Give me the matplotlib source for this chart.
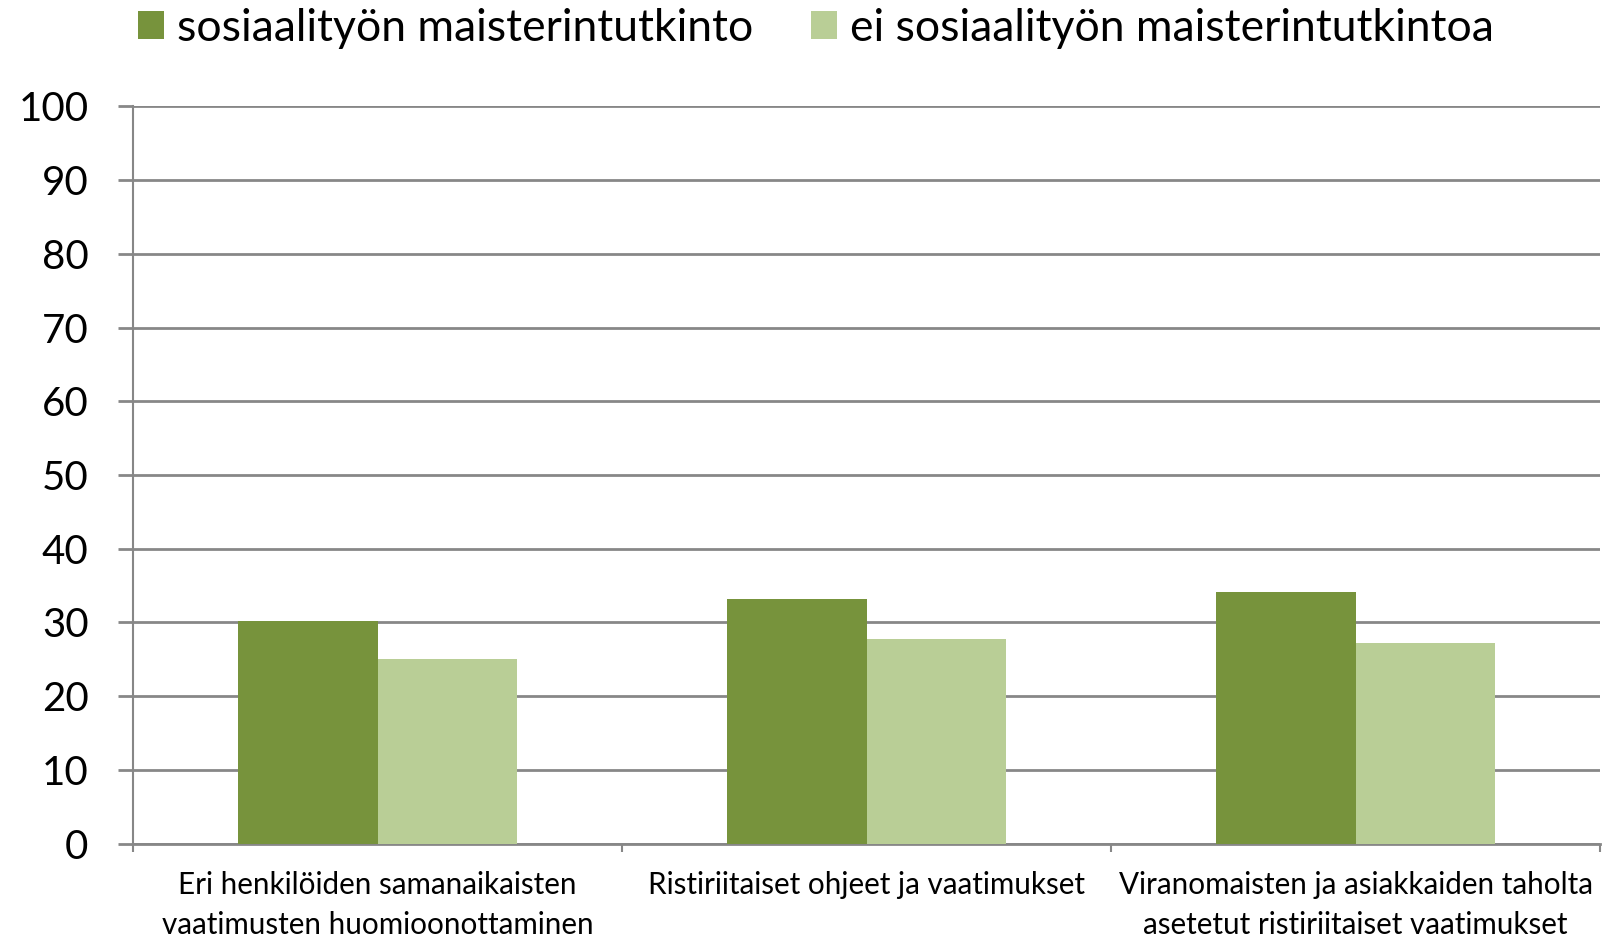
import matplotlib
matplotlib.use("Agg")
import matplotlib.pyplot as plt
import numpy as np

categories = ["Eri henkilöiden samanaikaisten\nvaatimusten huomioonottaminen",
              "Ristiriitaiset ohjeet ja vaatimukset",
              "Viranomaisten ja asiakkaiden taholta\nasetetut ristiriitaiset vaatimukset"]
series_names = ["sosiaalityön maisterintutkinto", "ei sosiaalityön maisterintutkintoa"]
with_degree = [30.2, 33.2, 34.1]
without_degree = [25.0, 27.8, 27.2]
yticks = list(range(0, 101, 10))

colors = ["#77933C", "#B9CE96"]
grid_c = "#878787"

plt.rcParams['font.family'] = ['Lato', 'DejaVu Sans']

fig = plt.figure(figsize=(16.05, 9.38), dpi=100)
ax = fig.add_axes([0.0829, 0.1007, 0.9141, 0.7858])

x = np.arange(len(categories))
w = 0.285
b1 = ax.bar(x - w/2, with_degree, w, color=colors[0], label=series_names[0], zorder=3)
b2 = ax.bar(x + w/2, without_degree, w, color=colors[1], label=series_names[1], zorder=3)

ax.set_xlim(-0.5, len(categories) - 0.5)
ax.set_ylim(0, 100)
ax.set_yticks(yticks)
ax.set_yticklabels([str(v) for v in yticks], fontsize=29)
ax.yaxis.grid(True, color=grid_c, linewidth=2, zorder=0)
ax.tick_params(axis='y', length=11, width=2, color=grid_c, pad=21)

ax.set_xticks(x)
ax.set_xticklabels(categories, fontsize=21.3, linespacing=1.5)
ax.tick_params(axis='x', which='major', length=0, pad=20)
ax.set_xticks(np.arange(-0.5, len(categories)), minor=True)
ax.tick_params(axis='x', which='minor', length=6, width=1.5, color=grid_c)

for s in ['top', 'right']:
    ax.spines[s].set_visible(False)
ax.spines['left'].set_color(grid_c)
ax.spines['left'].set_linewidth(1.5)
ax.spines['bottom'].set_color(grid_c)
ax.spines['bottom'].set_linewidth(2)

fig.legend(handles=[b1, b2], labels=series_names, loc='center left',
           bbox_to_anchor=(0.086, 0.970), ncol=2, frameon=False, fontsize=32,
           borderpad=0, borderaxespad=0,
           handlelength=0.58, handleheight=0.62, handletextpad=0.3, columnspacing=1.3)

fig.savefig("out.png", dpi=100)
